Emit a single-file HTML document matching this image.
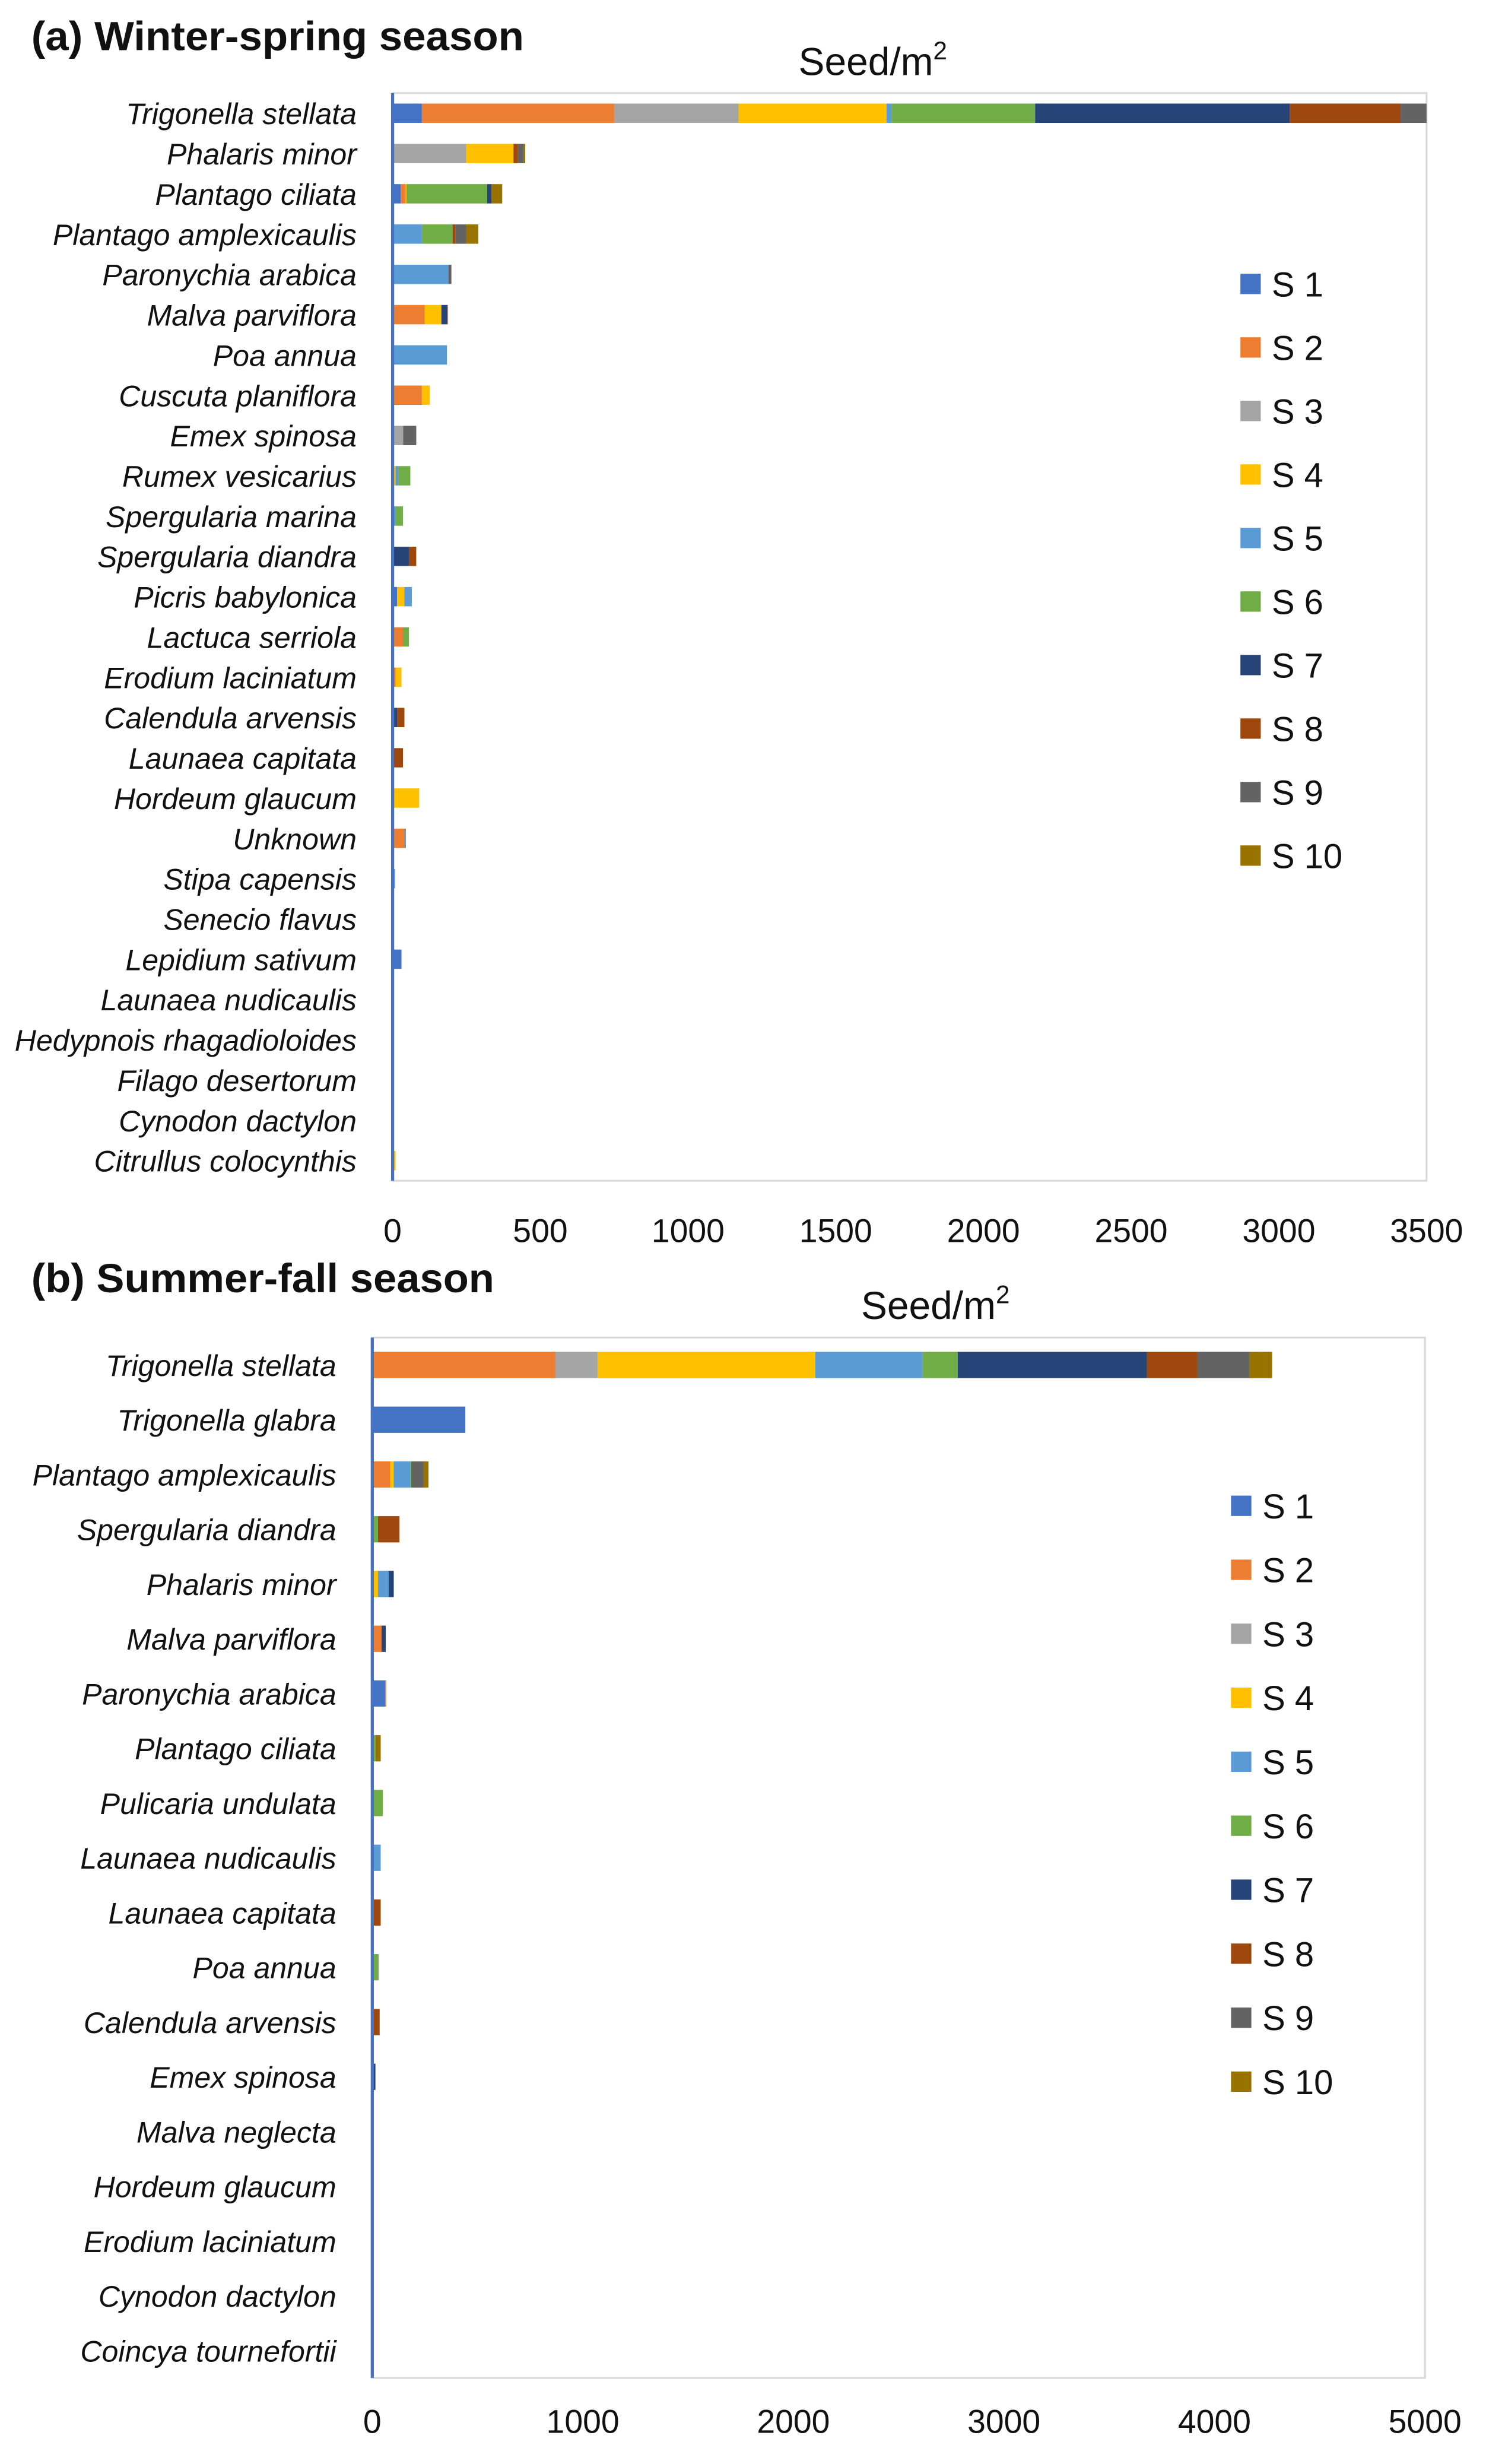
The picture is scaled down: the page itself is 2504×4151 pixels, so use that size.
<!DOCTYPE html>
<html><head><meta charset="utf-8"><style>
html,body{margin:0;padding:0;background:#fff}
svg{display:block}
text{font-family:"Liberation Sans Narrow","Liberation Sans",sans-serif;fill:#111}
</style></head><body>
<svg id="fig" width="2504" height="4151" viewBox="0 0 950 1575" preserveAspectRatio="none" xmlns="http://www.w3.org/2000/svg">
<text x="20" y="32" font-size="26" font-weight="bold" textLength="315" lengthAdjust="spacingAndGlyphs" style="font-family:'Liberation Sans',sans-serif">(a) Winter-spring season</text>
<text x="20" y="826" font-size="26" font-weight="bold" textLength="296" lengthAdjust="spacingAndGlyphs" style="font-family:'Liberation Sans',sans-serif">(b) Summer-fall season</text>
</svg>
<script>
const seriesNames=["S 1","S 2","S 3","S 4","S 5","S 6","S 7","S 8","S 9","S 10"];
const winterCategories=["Trigonella stellata","Phalaris minor","Plantago ciliata","Plantago amplexicaulis","Paronychia arabica","Malva parviflora","Poa annua","Cuscuta planiflora","Emex spinosa","Rumex vesicarius","Spergularia marina","Spergularia diandra","Picris babylonica","Lactuca serriola","Erodium laciniatum","Calendula arvensis","Launaea capitata","Hordeum glaucum","Unknown","Stipa capensis","Senecio flavus","Lepidium sativum","Launaea nudicaulis","Hedypnois rhagadioloides","Filago desertorum","Cynodon dactylon","Citrullus colocynthis"];
const winterS1=[99,0,27,0,0,0,0,0,0,0,0,0,15,0,0,5,0,0,0,0,0,30,0,0,0,0,0];
const winterS2=[651,0,17,0,0,109,0,99,0,0,0,0,0,35,10,0,0,0,40,0,0,0,0,0,0,0,0];
const winterS3=[421,249,0,0,0,0,0,0,36,0,0,0,0,0,0,0,0,0,0,0,0,0,0,0,0,0,0];
const winterS4=[501,160,3,0,0,56,0,27,0,10,0,0,25,0,20,0,0,90,0,0,0,0,0,0,0,0,10];
const winterS5=[17,0,0,99,189,0,184,0,0,10,10,0,25,0,0,0,0,0,5,8,0,0,0,0,0,0,0];
const winterS6=[486,0,273,104,0,0,0,0,0,40,25,0,0,20,0,0,0,0,0,0,0,0,0,0,0,0,0];
const winterS7=[862,0,15,0,0,19,0,0,0,0,0,55,0,0,0,10,0,0,0,0,0,0,0,0,0,0,0];
const winterS8=[375,15,0,10,0,3,0,0,0,0,0,25,0,0,0,25,35,0,0,0,0,0,0,0,0,0,0];
const winterS9=[120,20,0,36,10,0,0,0,44,0,0,0,0,0,0,0,0,0,0,0,0,0,0,0,0,0,0];
const winterS10=[0,5,36,41,0,0,0,0,0,0,0,0,0,0,0,0,0,0,0,0,0,0,0,0,0,0,0];
const winterTicks=[0,500,1000,1500,2000,2500,3000,3500];

const summerCategories=["Trigonella stellata","Trigonella glabra","Plantago amplexicaulis","Spergularia diandra","Phalaris minor","Malva parviflora","Paronychia arabica","Plantago ciliata","Pulicaria undulata","Launaea nudicaulis","Launaea capitata","Poa annua","Calendula arvensis","Emex spinosa","Malva neglecta","Hordeum glaucum","Erodium laciniatum","Cynodon dactylon","Coincya tournefortii"];
const summerS1=[0,442,0,0,0,0,61,0,0,0,0,0,0,0,0,0,0,0,0];
const summerS2=[870,0,85,0,0,44,5,0,0,0,0,0,5,0,0,0,0,0,0];
const summerS3=[200,0,0,0,0,0,0,0,0,0,0,0,0,0,0,0,0,0,0];
const summerS4=[1034,0,17,0,27,0,0,0,0,0,0,0,0,0,0,0,0,0,0];
const summerS5=[510,0,78,5,51,0,0,0,0,40,0,0,0,0,0,0,0,0,0];
const summerS6=[167,0,5,22,0,0,0,15,50,0,0,30,0,0,0,0,0,0,0];
const summerS7=[898,0,0,0,24,20,0,0,0,0,0,0,0,15,0,0,0,0,0];
const summerS8=[238,0,0,102,0,0,0,0,0,0,40,0,30,0,0,0,0,0,0];
const summerS9=[248,0,58,0,0,0,0,0,0,0,0,0,0,0,0,0,0,0,0];
const summerS10=[109,0,24,0,0,0,0,25,0,0,0,0,0,0,0,0,0,0,0];
const summerTicks=[0,1000,2000,3000,4000,5000];

const colors=["#4472C4","#ED7D31","#A5A5A5","#FFC000","#5B9BD5","#70AD47","#264478","#9E480E","#636363","#997300"];
const NS="http://www.w3.org/2000/svg";
const svg=document.getElementById('fig');
function mk(tag,attrs,parent){const e=document.createElementNS(NS,tag);for(const k in attrs)e.setAttribute(k,attrs[k]);(parent||svg).appendChild(e);return e;}

function panel(id,cats,series,ticks,L,R,T,band,labelX,tickY,titleX,titleY,legX,legY,legStep){
  const max=ticks[ticks.length-1];
  const B=T+band*cats.length;
  const xs=v=>L+(v/max)*(R-L);
  const ys=i=>T+band*(i+0.5);
  const g=mk('g',{});
  
  
  const frame=mk('rect',{x:L,y:T,width:R-L,height:B-T,fill:'none',stroke:'#d9d9d9','stroke-width':1.2},g);
  
  
  const cp=mk('clipPath',{id:id+'clip'},g);
  mk('rect',{x:L,y:T,width:R-L,height:B-T},cp);
  const bars=mk('g',{'clip-path':'url(#'+id+'clip)'},g);
  const bh=band*0.48;
  cats.forEach((c,i)=>{
    let acc=0;
    series.forEach((s,si)=>{
      const v=s[i];if(v>0){
        const r=mk('rect',{x:xs(acc),y:ys(i)-bh/2,width:xs(acc+v)-xs(acc),height:bh,fill:colors[si]},bars);
        
        
      }
      acc+=v;
    });
    const t=mk('text',{x:labelX,y:ys(i)+7,'text-anchor':'end','font-size':19,'font-style':'italic'},g);
    t.textContent=c;
    
    
  });
  const ax=mk('line',{x1:L,y1:T,x2:L,y2:B,stroke:'#4472C4','stroke-width':2},g);
  
  
  ticks.forEach(tv=>{
    const t=mk('text',{x:xs(tv),y:tickY,'text-anchor':'middle','font-size':21},g);
    t.textContent=tv;
    
    
  });
  const at=mk('text',{x:titleX,y:titleY,'text-anchor':'middle','font-size':25},g);
  at.innerHTML='Seed/m<tspan font-size="16" dy="-10">2</tspan>';
  
  
  seriesNames.forEach((n,si)=>{
    const y=legY+si*legStep;
    const r=mk('rect',{x:legX,y:y-7,width:13,height:13,fill:colors[si]},g);
    
    
    const t=mk('text',{x:legX+20,y:y+7.5,'font-size':22},g);
    t.textContent=n;
    
    
  });
}
panel('winter',winterCategories,[winterS1,winterS2,winterS3,winterS4,winterS5,winterS6,winterS7,winterS8,winterS9,winterS10],winterTicks,251,912,59.5,25.75,228,794,558,48,793,182,40.6);
panel('summer',summerCategories,[summerS1,summerS2,summerS3,summerS4,summerS5,summerS6,summerS7,summerS8,summerS9,summerS10],summerTicks,238,911,855,35,215,1555,598,843,787,963,40.9);
</script>
</body></html>
